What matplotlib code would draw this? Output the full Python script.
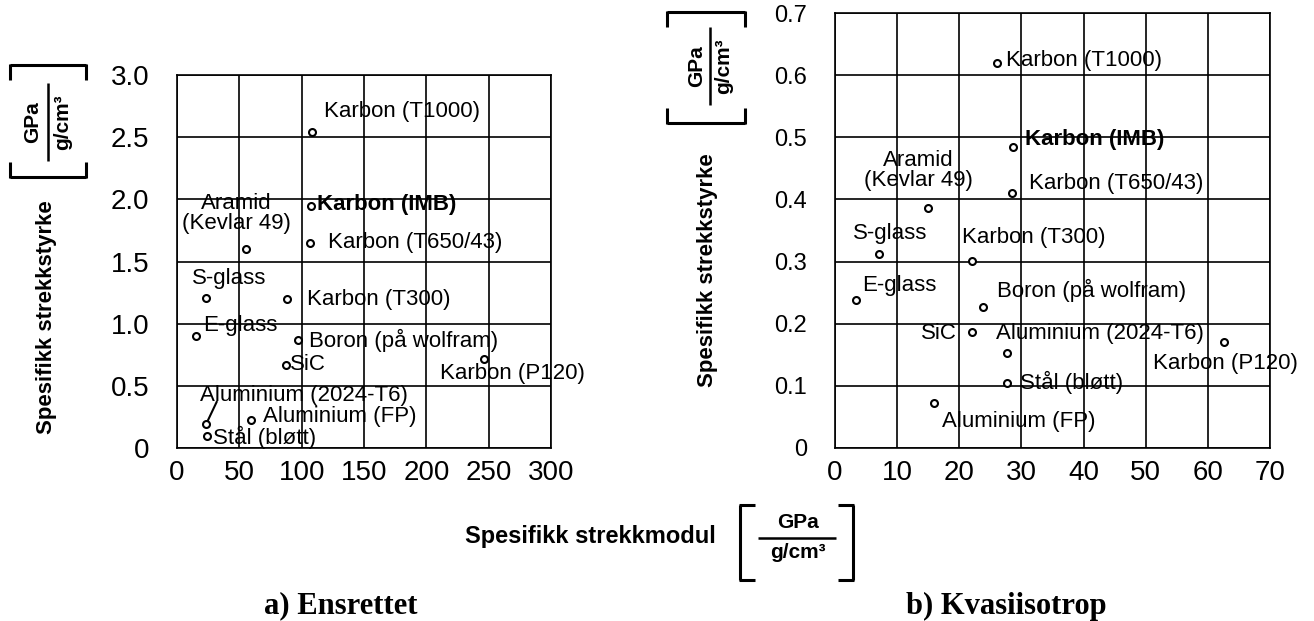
#!/usr/bin/env python3
# -*- coding: utf-8 -*-
"""
Spesifikk strekkstyrke mot spesifikk strekkmodul for fibre og metaller,
a) ensrettet og b) kvasiisotrop.
"""

import matplotlib
matplotlib.use('Agg')
import matplotlib.pyplot as plt
from matplotlib.lines import Line2D

W, H = 1314, 621

TickSize = 20
TickSizeY2 = 17
LabelSize = 16
XLabelSize = 17
AxisLabelSize = 16
UnitSize = 15
CaptionSize = 22

SANS = ['Liberation Sans', 'DejaVu Sans']
SERIF = ['Liberation Serif', 'DejaVu Serif']

#%% data: a) ensrettet

names = ['Karbon (T1000)', 'Karbon (IMB)', 'Karbon (T650/43)', 'Aramid\n(Kevlar 49)',
         'S-glass', 'Karbon (T300)', 'E-glass', 'Boron (på wolfram)', 'SiC',
         'Karbon (P120)', 'Aluminium (2024-T6)', 'Aluminium (FP)', 'Stål (bløtt)']

modul_a = [108, 107.5, 106.7, 55.4, 23.3, 88, 15.2, 97.4, 87.5, 246.4, 23.3, 59, 23.8]
styrke_a = [2.54, 1.95, 1.65, 1.60, 1.21, 1.195, 0.90, 0.868, 0.667, 0.713, 0.193, 0.225, 0.096]
# label anchor (x, y, ha)
lab_a = [(117.9, 2.705, 'left'), (112, 1.955, 'left'), (121.1, 1.649, 'left'),
         (47.7, 1.886, 'center'), (41.7, 1.367, 'center'), (104, 1.198, 'left'),
         (21.1, 0.989, 'left'), (105.9, 0.869, 'left'), (90.6, 0.668, 'left'),
         (211, 0.601, 'left'), (18.4, 0.425, 'left'), (69, 0.255, 'left'),
         (28.9, 0.085, 'left')]
xticks_a = [0, 50, 100, 150, 200, 250, 300]
yticks_a = [0, 0.5, 1.0, 1.5, 2.0, 2.5, 3.0]
ylabels_a = ['0', '0.5', '1.0', '1.5', '2.0', '2.5', '3.0']

#%% data: b) kvasiisotrop

modul_b = [26.1, 28.7, 28.5, 15.0, 7.0, 22.0, 3.4, 23.8, 22.0, 62.6, 27.6, 15.9, 27.6]
styrke_b = [0.619, 0.485, 0.41, 0.387, 0.312, 0.301, 0.238, 0.227, 0.187, 0.171, 0.153, 0.072, 0.104]
lab_b = [(27.5, 0.624, 'left'), (30.6, 0.496, 'left'), (31.2, 0.426, 'left'),
         (13.4, 0.447, 'center'), (8.8, 0.345, 'center'), (20.4, 0.338, 'left'),
         (4.3, 0.261, 'left'), (26.0, 0.254, 'left'), (51.2, 0.136, 'left'),
         (25.9, 0.185, 'left'), (19.6, 0.185, 'right'), (17.2, 0.042, 'left'),
         (29.8, 0.105, 'left')]
# names for b: same order, but SiC/Aluminium(2024-T6) labels sit on one row
order_b = [0, 1, 2, 3, 4, 5, 6, 7, 9, 10, 8, 11, 12]
xticks_b = [0, 10, 20, 30, 40, 50, 60, 70]
yticks_b = [0, 0.1, 0.2, 0.3, 0.4, 0.5, 0.6, 0.7]
ylabels_b = ['0', '0.1', '0.2', '0.3', '0.4', '0.5', '0.6', '0.7']

#%%

plt.close('all')
fig = plt.figure(figsize=(W / 100, H / 100), dpi=100)


def fx(px):
    return px / W


def fy(py):
    return 1 - py / H


def line(x0, y0, x1, y1, lw=2.2):
    fig.add_artist(Line2D([fx(x0), fx(x1)], [fy(y0), fy(y1)], transform=fig.transFigure,
                          color='black', lw=lw, solid_capstyle='butt'))


def setup(ax, xticks, yticks, ylabels, ysize):
    ax.set_xlim(xticks[0], xticks[-1])
    ax.set_ylim(yticks[0], yticks[-1])
    ax.set_xticks(xticks)
    ax.set_xticklabels([str(t) for t in xticks], family=SANS, fontsize=TickSize)
    ax.set_yticks(yticks)
    ax.set_yticklabels(ylabels, family=SANS, fontsize=ysize)
    ax.tick_params(length=0)
    ax.tick_params(axis='x', pad=9)
    ax.tick_params(axis='y', pad=20)
    ax.grid(True, color='black', linewidth=1.2)
    ax.set_axisbelow(True)
    for s in ax.spines.values():
        s.set_linewidth(1.2)


ax1 = fig.add_axes([fx(177), fy(448), fx(551) - fx(177), fy(75) - fy(448)])
setup(ax1, xticks_a, yticks_a, ylabels_a, TickSize)
ax1.plot(modul_a, styrke_a, 'o', ms=5, mfc='white', mec='black', mew=1.5, zorder=3)
for n, (x, y, ha) in zip(names, lab_a):
    w = 'bold' if 'IMB' in n else 'normal'
    ax1.text(x, y, n, ha=ha, va='center', family=SANS, fontsize=LabelSize,
             fontweight=w, linespacing=0.95)
# strek fra Aluminium (2024-T6) til punktet
ax1.plot([23.8, 31.8], [0.201, 0.37], color='black', lw=1.5)

ax2 = fig.add_axes([fx(835), fy(448), fx(1270) - fx(835), fy(13) - fy(448)])
setup(ax2, xticks_b, yticks_b, ylabels_b, TickSizeY2)
ax2.plot(modul_b, styrke_b, 'o', ms=5, mfc='white', mec='black', mew=1.5, zorder=3)
for i, (x, y, ha) in zip(order_b, lab_b):
    n = names[i]
    w = 'bold' if 'IMB' in n else 'normal'
    ax2.text(x, y, n, ha=ha, va='center', family=SANS, fontsize=LabelSize,
             fontweight=w, linespacing=0.95)

#%% aksetitler med enhet i klammer

fig.text(fx(47), fy(317), 'Spesifikk strekkstyrke', rotation=90, ha='center', va='center',
         family=SANS, fontsize=AxisLabelSize, fontweight='bold')
fig.text(fx(707), fy(270), 'Spesifikk strekkstyrke', rotation=90, ha='center', va='center',
         family=SANS, fontsize=AxisLabelSize, fontweight='bold')
fig.text(fx(590), fy(537), 'Spesifikk strekkmodul', ha='center', va='center',
         family=SANS, fontsize=XLabelSize, fontweight='bold')


def unit_vertical(x0, x1, top, bot, cy, xg, xl, xc):
    # klammer rotert 90 grader
    line(x0, top, x1, top)
    line(x0, top - 1, x0, top + 15)
    line(x1, top - 1, x1, top + 15)
    line(x0, bot, x1, bot)
    line(x0, bot + 1, x0, bot - 15)
    line(x1, bot + 1, x1, bot - 15)
    fig.text(fx(xg), fy(cy), 'GPa', rotation=90, ha='center', va='center',
             family=SANS, fontsize=UnitSize, fontweight='bold')
    line(xl, cy - 39, xl, cy + 39, lw=1.8)
    fig.text(fx(xc), fy(cy), 'g/cm³', rotation=90, ha='center', va='center',
             family=SANS, fontsize=UnitSize, fontweight='bold')


unit_vertical(10, 86, 65, 177, 122, 33, 48, 63)
unit_vertical(667, 745, 12, 123, 66, 697, 710, 724)

# enhet under x-aksen
line(740, 505, 740, 580)
line(739, 505, 755, 505)
line(739, 580, 755, 580)
line(853, 505, 853, 580)
line(854, 505, 838, 505)
line(854, 580, 838, 580)
fig.text(fx(798), fy(523), 'GPa', ha='center', va='center',
         family=SANS, fontsize=UnitSize, fontweight='bold')
line(758, 538, 836, 538, lw=1.8)
fig.text(fx(798), fy(553), 'g/cm³', ha='center', va='center',
         family=SANS, fontsize=UnitSize, fontweight='bold')

#%% undertitler

fig.text(fx(341), fy(606), 'a) Ensrettet', ha='center', va='center',
         family=SERIF, fontsize=CaptionSize, fontweight='bold')
fig.text(fx(1006), fy(606), 'b) Kvasiisotrop', ha='center', va='center',
         family=SERIF, fontsize=CaptionSize, fontweight='bold')

fig.savefig('out.png', dpi=100)
